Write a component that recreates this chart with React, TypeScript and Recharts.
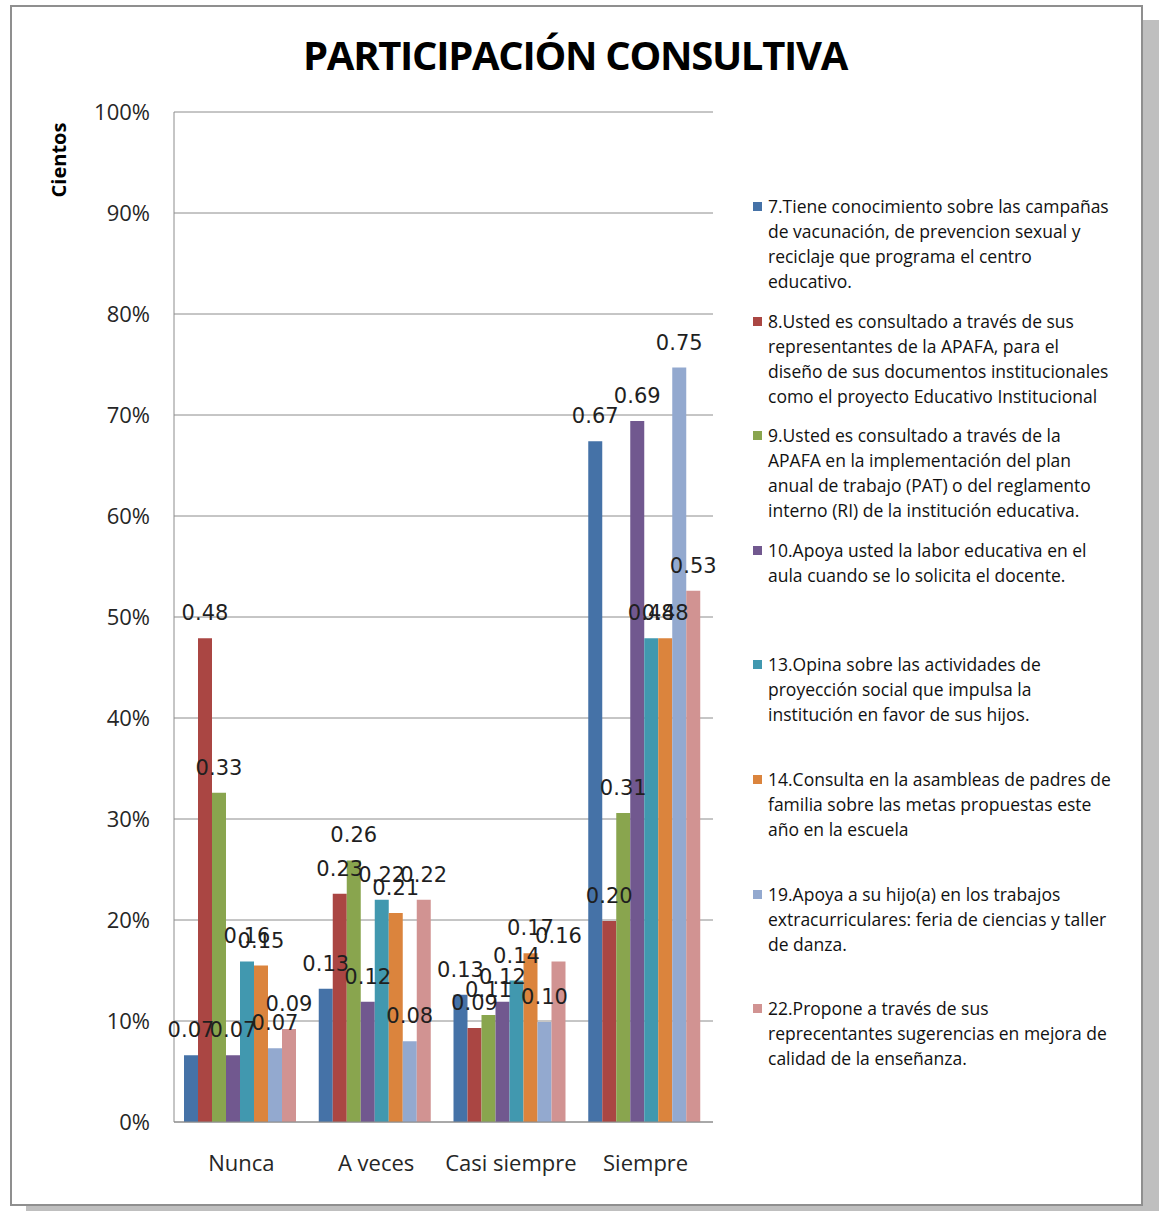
import React from "react";
import { Bar, BarChart, CartesianGrid, LabelList, Legend, XAxis, YAxis } from "recharts";

const categories = ["Nunca", "A veces", "Casi siempre", "Siempre"];
const yTicks = [0, 0.1, 0.2, 0.3, 0.4, 0.5, 0.6, 0.7, 0.8, 0.9, 1];

// one array per question, values for Nunca / A veces / Casi siempre / Siempre
const q7 = [0.066, 0.132, 0.126, 0.674];
const q8 = [0.479, 0.226, 0.093, 0.199];
const q9 = [0.326, 0.259, 0.106, 0.306];
const q10 = [0.066, 0.119, 0.119, 0.694];
const q13 = [0.159, 0.22, 0.14, 0.479];
const q14 = [0.1549, 0.207, 0.167, 0.479];
const q19 = [0.073, 0.08, 0.099, 0.747];
const q22 = [0.092, 0.22, 0.159, 0.526];

const seriesValues = [q7, q8, q9, q10, q13, q14, q19, q22];

const seriesNames = [
  "7.Tiene conocimiento sobre las campañas\nde vacunación, de prevencion sexual y\nreciclaje que programa el centro\neducativo.",
  "8.Usted es consultado a través de sus\nrepresentantes de la APAFA, para el\ndiseño de sus documentos institucionales\ncomo el proyecto Educativo Institucional",
  "9.Usted es consultado a través de la\nAPAFA en la implementación del plan\nanual de trabajo (PAT) o del reglamento\ninterno (RI) de la institución educativa.",
  "10.Apoya usted la labor educativa en el\naula cuando se lo solicita el docente.",
  "13.Opina sobre las actividades de\nproyección social que impulsa la\ninstitución en favor de sus hijos.",
  "14.Consulta en la asambleas de padres de\nfamilia sobre las metas propuestas este\naño en la escuela",
  "19.Apoya a su hijo(a) en los trabajos\nextracurriculares: feria de ciencias y taller\nde danza.",
  "22.Propone a través de sus\nreprecentantes sugerencias en mejora de\ncalidad de la enseñanza.",
];

const seriesColors = [
  "#4572A7",
  "#AA4643",
  "#89A54E",
  "#71588F",
  "#4198AF",
  "#DB843D",
  "#93A9CF",
  "#D19392",
];

const rows = categories.map((name, i) => {
  const row: Record<string, string | number> = { name };
  seriesValues.forEach((vals, s) => {
    row[`s${s}`] = vals[i];
  });
  return row;
});

const legendFont = "'Open Sans', sans-serif";

function LegendBox({ payload }: { payload?: { value: string; color: string }[] }) {
  return (
    <div style={{ fontFamily: legendFont, fontSize: 17.5, color: "#111" }}>
      {(payload ?? []).map((p) => (
        <div
          key={p.value}
          style={{ height: 114.6, position: "relative", whiteSpace: "pre", lineHeight: "25px" }}
        >
          <span
            style={{
              position: "absolute",
              left: 1,
              top: 8,
              width: 9,
              height: 9,
              background: p.color,
            }}
          />
          <div style={{ paddingLeft: 16 }}>{p.value}</div>
        </div>
      ))}
    </div>
  );
}

export default function App() {
  return (
    <div style={{ position: "absolute", left: 0, top: 0, width: 1160, height: 1211, overflow: "hidden" }}>
      <div
        style={{
          position: "absolute",
          left: 10,
          top: 5,
          width: 1133,
          height: 1201,
          boxSizing: "border-box",
          border: "2px solid #8f8f8f",
          boxShadow: "16px 15px 0 #bfbfbf",
          background: "#fff",
        }}
      />
      <div
        style={{
          position: "absolute",
          left: 0,
          top: 27,
          width: 1150,
          textAlign: "center",
          fontFamily: legendFont,
          fontWeight: 700,
          fontSize: 40,
          letterSpacing: -1.3,
          color: "#000",
        }}
      >
        PARTICIPACIÓN CONSULTIVA
      </div>
      <div
        style={{
          position: "absolute",
          left: 58,
          top: 160,
          transform: "translate(-50%, -50%) rotate(-90deg)",
          fontFamily: legendFont,
          fontWeight: 700,
          fontSize: 20,
          color: "#000",
          whiteSpace: "nowrap",
        }}
      >
        Cientos
      </div>
      <div style={{ position: "absolute", left: 0, top: 0 }}>
        <BarChart
          width={1160}
          height={1211}
          data={rows}
          margin={{ top: 112, right: 447, left: 94, bottom: 29 }}
          barCategoryGap={10}
          barGap={0}
        >
          <CartesianGrid vertical={false} stroke="#8c8c8c" />
          <XAxis
            dataKey="name"
            height={60}
            interval={0}
            tickLine={false}
            tickMargin={27}
            axisLine={{ stroke: "#8c8c8c" }}
            tick={{ fill: "#262626", fontSize: 22, fontFamily: legendFont }}
          />
          <YAxis
            width={80}
            domain={[0, 1]}
            ticks={yTicks}
            interval={0}
            tickLine={false}
            tickMargin={18}
            axisLine={{ stroke: "#8c8c8c" }}
            tickFormatter={(v: number) => `${Math.round(v * 100)}%`}
            tick={{ fill: "#262626", fontSize: 22, fontFamily: legendFont }}
          />
          <Legend
            layout="horizontal"
            verticalAlign="middle"
            align="center"
            itemSorter="dataKey"
            wrapperStyle={{ position: "absolute", left: 752, top: 194, width: 400 }}
            content={(props: any) => <LegendBox payload={props.payload} />}
          />
          {seriesNames.map((name, s) => (
            <Bar
              key={name}
              dataKey={`s${s}`}
              name={name}
              fill={seriesColors[s]}
              isAnimationActive={false}
            >
              <LabelList
                dataKey={`s${s}`}
                position="top"
                offset={18}
                formatter={(v: any) => Number(v).toFixed(2)}
                style={{ fill: "#1f1f1f", fontSize: 21, fontFamily: "'DejaVu Sans', sans-serif" }}
              />
            </Bar>
          ))}
        </BarChart>
      </div>
    </div>
  );
}
